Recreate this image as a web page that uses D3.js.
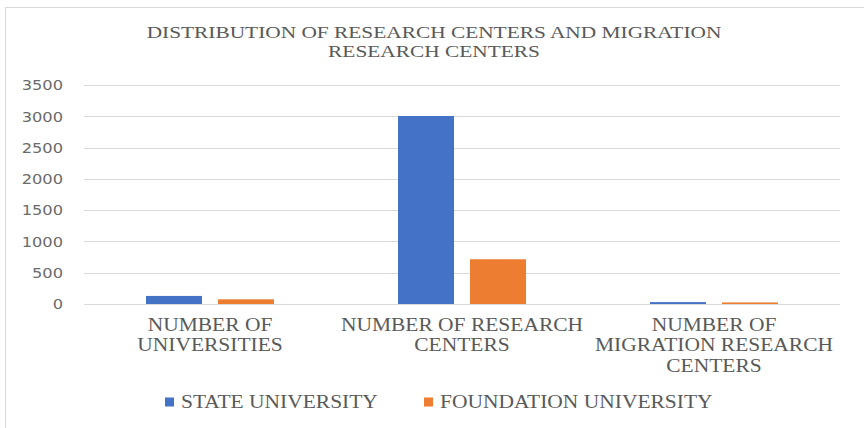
<!DOCTYPE html>
<html><head><meta charset="utf-8">
<script src="https://cdn.jsdelivr.net/npm/d3@7"></script>
<style>body{margin:0;background:#fff;} svg{display:block;}</style>
</head><body>
<script>
const categories = [["NUMBER OF","UNIVERSITIES"],["NUMBER OF RESEARCH","CENTERS"],["NUMBER OF","MIGRATION RESEARCH","CENTERS"]];
const seriesNames = ["STATE UNIVERSITY","FOUNDATION UNIVERSITY"];
const stateValues = [129, 3005, 30];
const foundationValues = [75, 715, 25];
const yTicks = [0,500,1000,1500,2000,2500,3000,3500];
const titleLines = ["DISTRIBUTION OF RESEARCH CENTERS AND MIGRATION","RESEARCH CENTERS"];
const colors = ["#4472C4","#ED7D31"];

const W=864,H=428;
const svg=d3.select("body").append("svg").attr("width",W).attr("height",H);
svg.append("rect").attr("x",5.5).attr("y",7.5).attr("width",W+10).attr("height",H+10).attr("fill","#fff").attr("stroke","#d9d9d9");

const SERIF="'Liberation Serif', 'Times New Roman', serif";
const SANS="'DejaVu Sans', Verdana, sans-serif";
function stretch(sel,k){ sel.each(function(){ const w=this.getComputedTextLength(); d3.select(this).attr("textLength",w*k).attr("lengthAdjust","spacingAndGlyphs"); }); }

const x0=d3.scaleBand().domain(d3.range(categories.length)).range([84,840]);
const y=d3.scaleLinear().domain([0,3500]).range([304,85]);
// grid
svg.append("g").selectAll("line").data(yTicks).join("line")
  .attr("x1",84).attr("x2",840).attr("y1",d=>Math.round(y(d))+0.5).attr("y2",d=>Math.round(y(d))+0.5)
  .attr("stroke","#d9d9d9").attr("stroke-width",1);
const yl=svg.append("g").selectAll("text").data(yTicks).join("text")
  .attr("x",63).attr("y",d=>y(d)+5.3).attr("text-anchor","end")
  .attr("font-family",SANS).attr("font-size",14.5).attr("fill","#6b6b6b").text(d=>d);
stretch(yl,1.12);

const series=[stateValues,foundationValues];
const bw=56, gap=16;
series.forEach((vals,s)=>{
  svg.append("g").selectAll("rect").data(vals).join("rect")
    .attr("x",(d,i)=>x0(i)+x0.bandwidth()/2 + (s===0 ? -gap/2-bw : gap/2))
    .attr("width",bw)
    .attr("y",d=>y(d)).attr("height",d=>y(0)-y(d))
    .attr("fill",colors[s]);
});

// x labels
categories.forEach((lines,i)=>{
  lines.forEach((l,j)=>{
    const t=svg.append("text").attr("text-anchor","middle")
      .attr("font-family",SERIF).attr("font-size",19).attr("fill","#595959")
      .attr("x",x0(i)+x0.bandwidth()/2).attr("y",331+j*20.3).text(l);
    stretch(t,1.13);
  });
});

// title
titleLines.forEach((l,j)=>{
  const t=svg.append("text").attr("text-anchor","middle")
    .attr("font-family",SERIF).attr("font-size",17.5).attr("fill","#595959")
    .attr("x",434).attr("y",38.3+j*18.2).text(l);
  stretch(t,1.22);
});

// legend
const legX=[165,424];
seriesNames.forEach((n,s)=>{
  svg.append("rect").attr("x",legX[s]).attr("y",397.5).attr("width",9).attr("height",9).attr("fill",colors[s]);
  const t=svg.append("text").attr("x",legX[s]+16).attr("y",408.3)
    .attr("font-family",SERIF).attr("font-size",19).attr("fill","#595959").text(n);
  stretch(t,1.13);
});
</script>
</body></html>
